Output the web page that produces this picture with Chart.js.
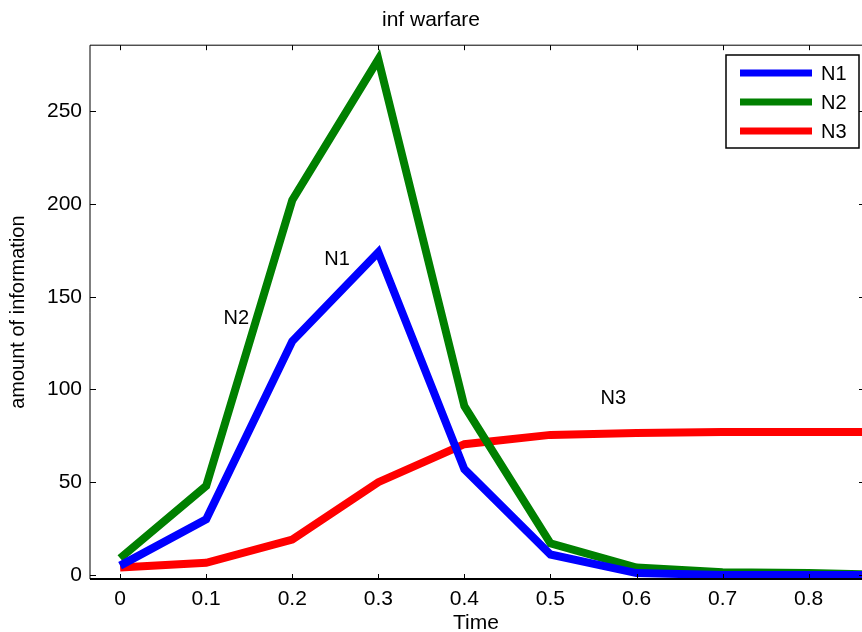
<!DOCTYPE html>
<html>
<head>
<meta charset="utf-8">
<script src="https://cdn.jsdelivr.net/npm/chart.js@4"></script>
<style>
  html, body { margin: 0; padding: 0; background: #fff; }
  #wrap { width: 862px; height: 632px; }
</style>
</head>
<body>
<div id="wrap"><canvas id="line-chart" width="862" height="632"></canvas></div>
<script>
var times = [0, 0.1, 0.2, 0.3, 0.4, 0.5, 0.6, 0.7, 0.8, 0.9];
var n1 = [5, 30, 126, 174, 57, 11, 1, 0, 0, 0];
var n2 = [9, 48, 202, 278, 91, 17, 4, 1.5, 1, 0];
var n3 = [4, 6.5, 19, 50, 70.5, 75.5, 76.5, 77, 77, 77];
var xTicks = [0, 0.1, 0.2, 0.3, 0.4, 0.5, 0.6, 0.7, 0.8];
var yTicks = [0, 50, 100, 150, 200, 250];
var seriesNames = ["N1", "N2", "N3"];
var seriesColors = ["#0000ff", "#008000", "#ff0000"];
// text labels placed in data units
var notes = [
    { text: "N1", x: 0.252, y: 170 },
    { text: "N2", x: 0.135, y: 138 },
    { text: "N3", x: 0.573, y: 95 }
];

function pts(vals) {
    return vals.map(function (v, i) { return { x: times[i], y: v }; });
}

var font = "'Liberation Sans', Arial, sans-serif";

var matlabBox = {
    id: 'matlabBox',
    afterDraw: function (chart) {
        var ctx = chart.ctx, a = chart.chartArea;
        var xs = chart.scales.x, ys = chart.scales.y;
        ctx.save();
        ctx.strokeStyle = '#000';
        ctx.lineWidth = 1;
        ctx.beginPath();
        ctx.moveTo(a.left, a.bottom); ctx.lineTo(a.left, a.top); ctx.lineTo(a.right, a.top);
        ctx.stroke();
        ctx.lineWidth = 2;
        ctx.beginPath();
        ctx.moveTo(a.left, a.bottom); ctx.lineTo(a.right, a.bottom);
        ctx.stroke();
        ctx.lineWidth = 1;
        ctx.beginPath();
        xTicks.forEach(function (t) {
            var px = Math.round(xs.getPixelForValue(t)) + 0.5;
            ctx.moveTo(px, a.bottom); ctx.lineTo(px, a.bottom - 5);
            ctx.moveTo(px, a.top); ctx.lineTo(px, a.top + 5);
        });
        yTicks.forEach(function (t) {
            var py = Math.round(ys.getPixelForValue(t)) + 0.5;
            ctx.moveTo(a.left, py); ctx.lineTo(a.left + 6, py);
            ctx.moveTo(a.right, py); ctx.lineTo(a.right - 3, py);
        });
        ctx.stroke();

        // annotations
        ctx.fillStyle = '#000';
        ctx.font = '20px ' + font;
        ctx.textAlign = 'center';
        ctx.textBaseline = 'middle';
        notes.forEach(function (n) {
            ctx.fillText(n.text, xs.getPixelForValue(n.x), ys.getPixelForValue(n.y));
        });

        // legend box
        var lx = 726, ly = 55, lw = 133, lh = 93;
        ctx.fillStyle = '#fff';
        ctx.fillRect(lx, ly, lw, lh);
        ctx.lineWidth = 1.5;
        ctx.strokeStyle = '#000';
        ctx.strokeRect(lx, ly, lw, lh);
        ctx.textAlign = 'left';
        ctx.font = '20px ' + font;
        seriesNames.forEach(function (name, i) {
            var yy = ly + 18 + i * 29;
            ctx.strokeStyle = seriesColors[i];
            ctx.lineWidth = 7;
            ctx.beginPath();
            ctx.moveTo(lx + 14, yy); ctx.lineTo(lx + 86, yy);
            ctx.stroke();
            ctx.fillStyle = '#000';
            ctx.fillText(name, lx + 95, yy + 1);
        });
        ctx.restore();
    }
};

new Chart(document.getElementById("line-chart"), {
    type: 'line',
    data: {
        datasets: [
            { label: seriesNames[0], data: pts(n1), borderColor: seriesColors[0], borderWidth: 8, pointRadius: 0, fill: false },
            { label: seriesNames[1], data: pts(n2), borderColor: seriesColors[1], borderWidth: 8, pointRadius: 0, fill: false },
            { label: seriesNames[2], data: pts(n3), borderColor: seriesColors[2], borderWidth: 8, pointRadius: 0, fill: false }
        ]
    },
    options: {
        responsive: false,
        animation: false,
        layout: { padding: { left: 0, right: 0, top: 0, bottom: 0 } },
        plugins: {
            legend: { display: false },
            tooltip: { enabled: false },
            title: {
                display: true,
                text: 'inf warfare',
                color: '#000',
                font: { family: font, size: 21, weight: 'normal' },
                padding: { top: 8, bottom: 12 }
            }
        },
        scales: {
            x: {
                type: 'linear',
                min: -0.035,
                max: 0.862,
                afterBuildTicks: function (s) { s.ticks = xTicks.map(function (v) { return { value: v }; }); },
                afterFit: function (s) { s.height = 53; },
                grid: { display: false, drawTicks: false },
                border: { display: false },
                ticks: { color: '#000', font: { family: font, size: 21 }, padding: 8, maxRotation: 0, autoSkip: false },
                title: { display: true, text: 'Time', color: '#000', font: { family: font, size: 21 }, padding: { top: 0, bottom: -4 } }
            },
            y: {
                min: -2.2,
                max: 285.6,
                afterBuildTicks: function (s) { s.ticks = yTicks.map(function (v) { return { value: v }; }); },
                afterFit: function (s) { s.width = 90; },
                grid: { display: false, drawTicks: false },
                border: { display: false },
                ticks: { color: '#000', font: { family: font, size: 21 }, padding: 8 },
                title: { display: true, text: 'amount of information', color: '#000', font: { family: font, size: 20 }, padding: { top: 6, bottom: 0 } }
            }
        }
    },
    plugins: [matlabBox]
});
</script>
</body>
</html>
